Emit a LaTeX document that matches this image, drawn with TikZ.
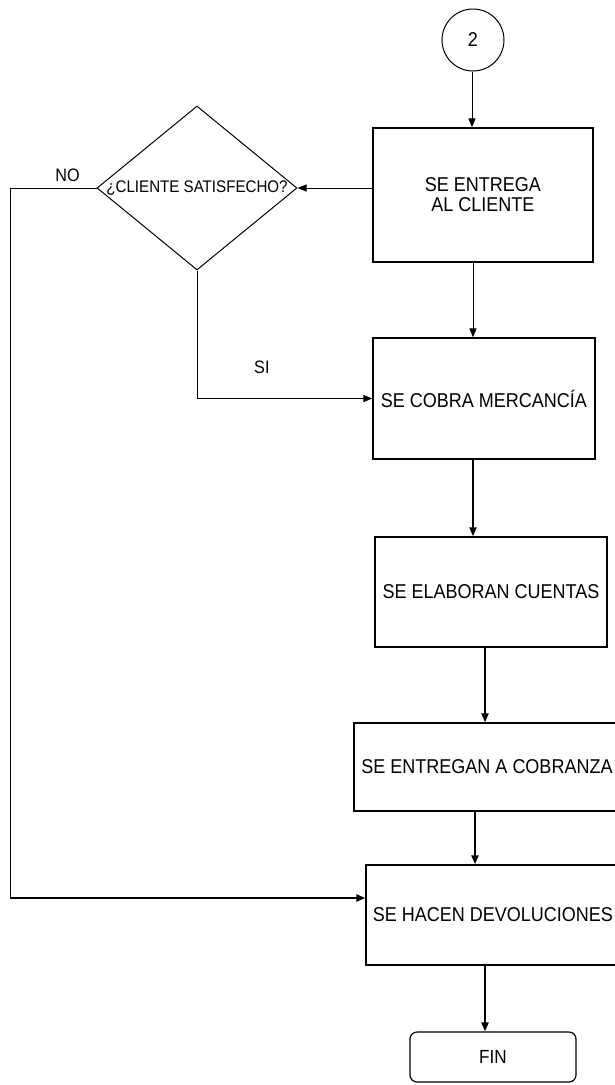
\documentclass[tikz,border=0pt]{standalone}
\usepackage{fontspec}
\setmainfont{Liberation Sans}[FakeStretch=0.9]
\usetikzlibrary{arrows.meta,shapes.geometric}

\begin{document}
\begin{tikzpicture}[x=1pt, y=-1pt, >={Triangle[length=9pt,width=7pt]},
  proc/.style={draw, line width=1.3pt, inner sep=0pt, align=center,
    font=\fontsize{20}{20}\selectfont},
  decis/.style={draw, diamond, aspect=1.22, line width=1pt, inner sep=0pt,
    minimum width=200pt, minimum height=164pt,
    font=\fontsize{16.8}{17}\selectfont},
  connector/.style={draw, circle, line width=1pt, inner sep=0pt,
    minimum size=62pt, font=\fontsize{20}{20}\selectfont},
  endbox/.style={draw, rounded corners=7pt, line width=1.2pt, inner sep=0pt,
    minimum width=166pt, minimum height=50pt, font=\fontsize{19}{19}\selectfont},
  flow/.style={->, line width=1pt},
  flowthick/.style={->, line width=2.1pt},
  lbl/.style={inner sep=0pt, font=\fontsize{18}{18}\selectfont}]

  \useasboundingbox (0,0) rectangle (615,1085);

  %% ---- Connector and first box ----
  \node[connector] (c2) at (473,40) {2};
  \node[proc, minimum width=220pt, minimum height=134pt] (entrega) at (483,195)
    {SE ENTREGA\\AL CLIENTE};

  %% ---- Decision ----
  \node[decis] (satis) at (197,188) {¿CLIENTE SATISFECHO?};

  %% ---- Process column ----
  \node[proc, minimum width=222pt, minimum height=121pt] (cobra) at (484,398.5)
    {SE COBRA MERCANCÍA};
  \node[proc, minimum width=232pt, minimum height=110pt] (cuentas) at (491,592)
    {SE ELABORAN CUENTAS};
  \node[proc, minimum width=266pt, minimum height=88pt] (cobranza) at (487,767)
    {SE ENTREGAN A COBRANZA};
  \node[proc, minimum width=254pt, minimum height=100pt] (devol) at (493,915)
    {SE HACEN DEVOLUCIONES};
  \node[endbox] (fin) at (493,1057) {FIN};

  %% ---- Thin arrows (top part) ----
  \draw[flow] ([xshift=-1pt]c2.south) -- ([xshift=-1pt]c2.south |- entrega.north);
  \draw[flow] (satis.east -| entrega.west) -- (satis.east);
  \draw[flow] ([xshift=-10pt]entrega.south) -- ([xshift=-10pt]entrega.south |- cobra.north);
  \draw[flow] (satis.south) |- node[lbl, pos=0.685, above=24pt] {SI} (cobra.west);

  %% ---- Thick arrows (lower column) ----
  \draw[flowthick] ([xshift=-11pt]cobra.south) -- ([xshift=-11pt]cobra.south |- cuentas.north);
  \draw[flowthick] ([xshift=-6pt]cuentas.south) -- ([xshift=-6pt]cuentas.south |- cobranza.north);
  \draw[flowthick] ([xshift=-12pt]cobranza.south) -- ([xshift=-12pt]cobranza.south |- devol.north);
  \draw[flowthick] ([xshift=-8pt]devol.south) -- ([xshift=-8pt]devol.south |- fin.north);

  %% ---- NO branch back to devoluciones ----
  \coordinate (nocorner) at (10,898);
  \draw[line width=1pt] (satis.west) -| node[lbl, pos=0.167, above=6pt] {NO} (nocorner);
  \draw[flowthick] (nocorner) -- (nocorner -| devol.west);

\end{tikzpicture}
\end{document}
